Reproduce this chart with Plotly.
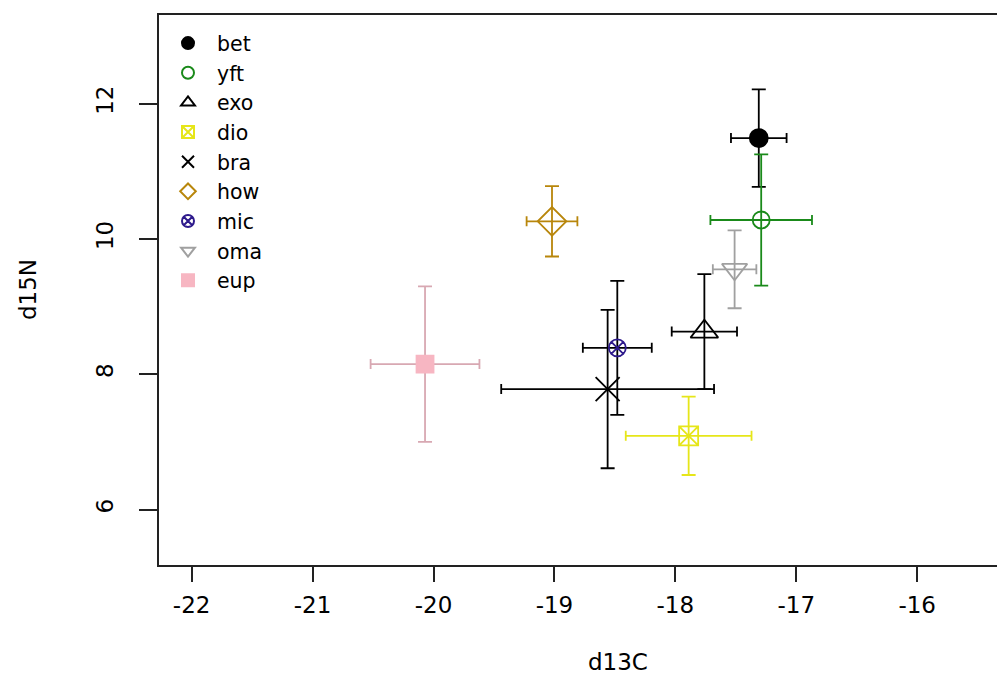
import plotly.graph_objects as go

# Species means and spreads of stable isotope values
species = ["bet", "yft", "exo", "dio", "bra", "how", "mic", "oma", "eup"]
d13c_mean = [-17.31, -17.29, -17.76, -17.89, -18.56, -19.02, -18.48, -17.51, -20.07]
d15n_mean = [11.49, 10.28, 8.63, 7.09, 7.78, 10.26, 8.39, 9.55, 8.15]
d13c_sd = [0.23, 0.42, 0.27, 0.52, 0.88, 0.21, 0.285, 0.18, 0.45]
d15n_sd = [0.72, 0.97, 0.85, 0.58, 1.17, 0.52, 0.99, 0.575, 1.15]

# Tick values and labels
x_ticks = [-22, -21, -20, -19, -18, -17, -16]
x_ticklabels = ["-22", "-21", "-20", "-19", "-18", "-17", "-16"]
y_ticks = [6, 8, 10, 12]
y_ticklabels = ["6", "8", "10", "12"]

# Per-species marker styling
symbols = ["circle", "circle-open", "triangle-up-open", "square-x-open", "x-thin-open",
           "diamond-open", "circle-x-open", "triangle-down-open", "square"]
marker_colors = ["#000000", "#1a8a1a", "#000000", "#e6e619", "#000000",
                 "#b8860b", "#2e1a8c", "#a0a0a0", "#f7b6c2"]
bar_colors = ["#000000", "#1a8a1a", "#000000", "#e6e619", "#000000",
              "#b8860b", "#000000", "#a0a0a0", "#d8a8b2"]
sizes = [18, 17, 24, 19, 24, 22, 17, 22, 17]

FONT = "DejaVu Sans, Verdana, sans-serif"
W, H = 997, 678
ML, MR, MT, MB = 159, 0, 15, 113
PW, PH = W - ML - MR, H - MT - MB

fig = go.Figure()
for i, sp in enumerate(species):
    fig.add_trace(go.Scatter(
        x=[d13c_mean[i]], y=[d15n_mean[i]], mode="markers", name=sp,
        marker=dict(symbol=symbols[i], size=sizes[i], color=marker_colors[i],
                    line=dict(color=marker_colors[i], width=1.8)),
        error_x=dict(type="data", array=[d13c_sd[i]], color=bar_colors[i],
                     thickness=1.8, width=5),
        error_y=dict(type="data", array=[d15n_sd[i]], color=bar_colors[i],
                     thickness=1.8, width=7),
    ))

fig.update_layout(
    width=W, height=H,
    margin=dict(l=ML, r=MR, t=MT, b=MB),
    paper_bgcolor="white", plot_bgcolor="white",
    font=dict(family=FONT, color="#000000"),
    showlegend=True,
    legend=dict(x=0.0, y=0.985, xanchor="left", yanchor="top",
                bgcolor="rgba(0,0,0,0)", font=dict(size=20.5, family=FONT),
                itemsizing="constant", itemwidth=48, tracegroupgap=0),
    xaxis=dict(range=[-22.27, -15.34], tickvals=x_ticks, ticktext=x_ticklabels,
               showgrid=False, zeroline=False, showline=True, linecolor="#222222",
               linewidth=1.6, mirror=True, ticks="outside", ticklen=15, tickwidth=1.6,
               tickcolor="#222222", tickfont=dict(size=23, family=FONT),
               ticklabelstandoff=4),
    yaxis=dict(range=[5.18, 13.31], tickvals=y_ticks, ticktext=y_ticklabels,
               showgrid=False, zeroline=False, showline=True, linecolor="#222222",
               linewidth=1.6, mirror=False, ticks="outside", ticklen=18, tickwidth=1.6,
               tickcolor="#222222", tickangle=-90, tickfont=dict(size=23, family=FONT),
               ticklabelstandoff=17),
)

# axis titles
fig.add_annotation(text="d13C", xref="paper", yref="paper",
                   x=(618 - ML) / PW, y=-(662 - (MT + PH)) / PH,
                   xanchor="center", yanchor="middle", showarrow=False,
                   font=dict(size=23, family=FONT))
fig.add_annotation(text="d15N", xref="paper", yref="paper",
                   x=(28 - ML) / PW, y=0.5, textangle=-90,
                   xanchor="center", yanchor="middle", showarrow=False,
                   font=dict(size=23, family=FONT))

fig.write_html("out.html")
